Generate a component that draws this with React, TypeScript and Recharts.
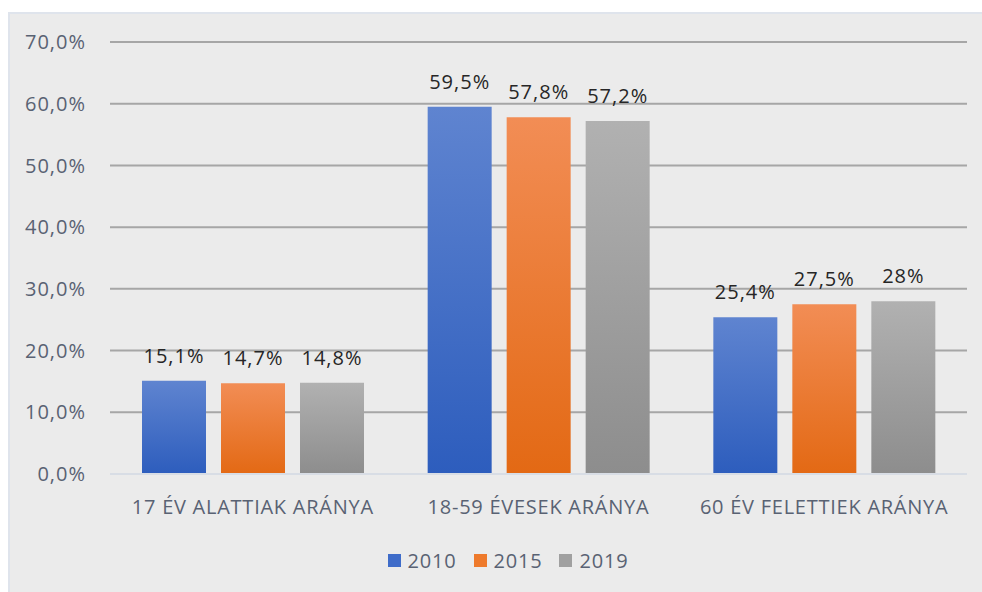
import React from 'react';
import { BarChart, Bar, XAxis, YAxis, CartesianGrid, Legend, LabelList } from 'recharts';

const categories = ['17 ÉV ALATTIAK ARÁNYA', '18-59 ÉVESEK ARÁNYA', '60 ÉV FELETTIEK ARÁNYA'];
const values2010 = [15.1, 59.5, 25.4];
const values2015 = [14.7, 57.8, 27.5];
const values2019 = [14.8, 57.2, 28];
const yTicks = [0, 10, 20, 30, 40, 50, 60, 70];

const series = [
  { key: 'y2010', name: '2010', values: values2010, grad: 'gBlue', swatch: '#3f6cc9' },
  { key: 'y2015', name: '2015', values: values2015, grad: 'gOrange', swatch: '#ee7a2c' },
  { key: 'y2019', name: '2019', values: values2019, grad: 'gGray', swatch: '#a0a0a0' },
];

const chartData = categories.map((c, i) => ({
  category: c,
  y2010: values2010[i],
  y2015: values2015[i],
  y2019: values2019[i],
}));

const FONT = '"Open Sans", "Noto Sans", sans-serif';
const AXIS_TEXT = '#596273';

const pct = (v: number) => `${String(v).replace('.', ',')}%`;
const tickPct = (v: number) => `${v.toFixed(1).replace('.', ',')}%`;

function LegendRow() {
  return (
    <div style={{ display: 'flex', justifyContent: 'center', alignItems: 'center', fontFamily: FONT, fontSize: 20, letterSpacing: 0.8, color: AXIS_TEXT, height: 26 }}>
      {series.map((s, i) => (
        <div key={s.key} style={{ display: 'flex', alignItems: 'center', marginLeft: i ? 17 : 0 }}>
          <span style={{ width: 13, height: 13, background: s.swatch, display: 'inline-block', marginRight: 7 }} />
          <span>{s.name}</span>
        </div>
      ))}
    </div>
  );
}

export default function App() {
  return (
    <div style={{ position: 'absolute', left: 0, top: 0, width: 982, height: 592, overflow: 'hidden', background: '#fff' }}>
      <div style={{ position: 'absolute', left: 8, top: 12, width: 996, height: 590, border: '2px solid #dfe4ec', background: '#ebebeb' }}>
        <BarChart
          width={996}
          height={580}
          data={chartData}
          margin={{ top: 28, right: 39, left: 0, bottom: 70 }}
          barSize={64}
          barGap={15}
          style={{ fontFamily: FONT }}
        >
          <defs>
            <linearGradient id="gBlue" x1="0" y1="0" x2="0" y2="1">
              <stop offset="0%" stopColor="#5f84d0" />
              <stop offset="100%" stopColor="#2d5dbd" />
            </linearGradient>
            <linearGradient id="gOrange" x1="0" y1="0" x2="0" y2="1">
              <stop offset="0%" stopColor="#f28d55" />
              <stop offset="100%" stopColor="#e36914" />
            </linearGradient>
            <linearGradient id="gGray" x1="0" y1="0" x2="0" y2="1">
              <stop offset="0%" stopColor="#b1b1b1" />
              <stop offset="100%" stopColor="#8d8d8d" />
            </linearGradient>
          </defs>
          <CartesianGrid vertical={false} stroke="#a6a6a6" strokeWidth={2} />
          <XAxis
            dataKey="category"
            height={50}
            tickLine={false}
            tickSize={0}
            tickMargin={26}
            axisLine={{ stroke: '#d8dde5', strokeWidth: 2 }}
            tick={{ fontSize: 20, fill: AXIS_TEXT, fontFamily: FONT, letterSpacing: 0.75 }}
            interval={0}
          />
          <YAxis
            width={100}
            domain={[0, 70]}
            ticks={yTicks}
            tickFormatter={tickPct}
            axisLine={false}
            tickLine={false}
            tickSize={0}
            tickMargin={24}
            tick={{ fontSize: 20, fill: AXIS_TEXT, fontFamily: FONT, letterSpacing: 1 }}
          />
          <Legend
            layout="horizontal"
            verticalAlign="middle"
            align="center"
            wrapperStyle={{ top: 533, left: 0, width: 996 }}
            content={() => <LegendRow />}
          />
          {series.map((s) => (
            <Bar key={s.key} dataKey={s.key} name={s.name} fill={`url(#${s.grad})`} isAnimationActive={false}>
              <LabelList
                dataKey={s.key}
                position="top"
                offset={18}
                formatter={(v: any) => pct(Number(v))}
                style={{ fontSize: 20, fill: '#262626', fontFamily: FONT, letterSpacing: 1 }}
              />
            </Bar>
          ))}
        </BarChart>
      </div>
    </div>
  );
}
